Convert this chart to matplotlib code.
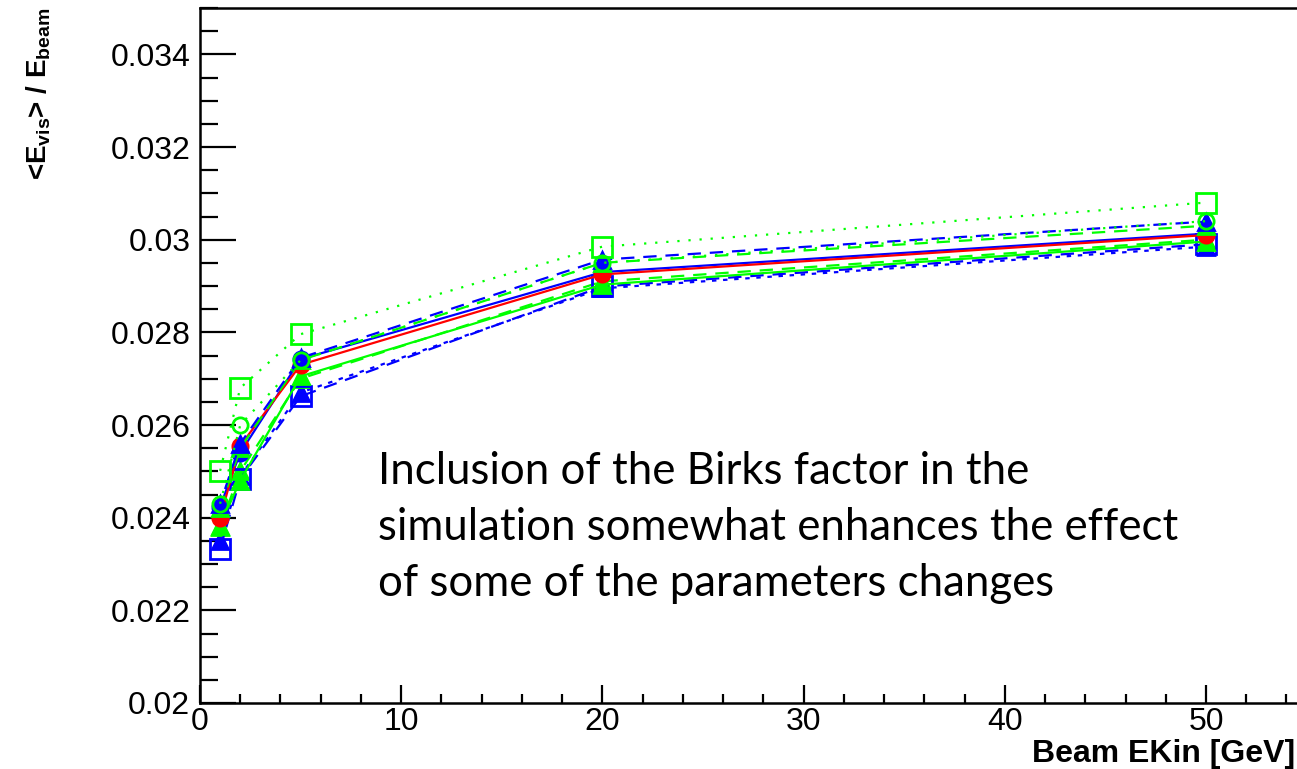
import matplotlib
matplotlib.use("Agg")
import matplotlib.pyplot as plt
from matplotlib.ticker import MultipleLocator

plt.rcParams['font.family'] = ['Liberation Sans', 'DejaVu Sans']
plt.rcParams['mathtext.fontset'] = 'custom'
plt.rcParams['mathtext.rm'] = 'Liberation Sans:bold'
plt.rcParams['mathtext.it'] = 'Liberation Sans:bold'
plt.rcParams['mathtext.bf'] = 'Liberation Sans:bold'
plt.rcParams['mathtext.default'] = 'rm'

# ---- data ----
energies = [1, 2, 5, 20, 50]

green_dot_sq   = [0.02501, 0.02680, 0.02796, 0.02985, 0.03080]
green_dot_circ = [0.02430, 0.02600, 0.02740, 0.02950, 0.03040]
blue_dash_tri  = [0.02430, 0.02560, 0.02745, 0.02957, 0.03039]
green_dash_up  = [0.02420, 0.02550, 0.02740, 0.02950, 0.03030]
red_solid_circ = [0.02400, 0.02555, 0.02730, 0.02925, 0.03010]
blue_solid_circ= [0.02424, 0.02540, 0.02742, 0.02930, 0.03013]
green_solid_tri= [0.02383, 0.02480, 0.02705, 0.02903, 0.02996]
blue_dash_sq   = [0.02333, 0.02484, 0.02662, 0.02899, 0.02990]
blue_dot_low   = [0.02350, 0.02490, 0.02670, 0.02895, 0.02985]
green_dash_low = [0.02380, 0.02500, 0.02700, 0.02910, 0.03000]

ytick_vals = [0.02, 0.022, 0.024, 0.026, 0.028, 0.03, 0.032, 0.034]
ytick_labels = ['0.02', '0.022', '0.024', '0.026', '0.028', '0.03', '0.032', '0.034']

xlabel = 'Beam EKin [GeV]'
ylabel = r'<E$_{\rm vis}$> / E$_{\rm beam}$'
note = ("Inclusion of the Birks factor in the\n"
        "simulation somewhat enhances the effect\n"
        "of some of the parameters changes")

GREEN = '#00ff00'
BLUE = '#0000ff'
RED = '#ff0000'

series = [
    (blue_dot_low,    BLUE,  (0, (2, 3)),  '^', True),
    (green_dash_low,  GREEN, (0, (6, 4)),  '^', True),
    (blue_dash_sq,    BLUE,  (0, (6, 4)),  's', False),
    (green_solid_tri, GREEN, '-',          '^', True),
    (blue_solid_circ, BLUE,  '-',          'o', True),
    (red_solid_circ,  RED,   '-',          'o', True),
    (green_dash_up,   GREEN, (0, (6, 4)),  '^', True),
    (blue_dash_tri,   BLUE,  (3, (6, 4)),  '^', True),
    (green_dot_circ,  GREEN, (0, (1, 4)),  'o', False),
    (green_dot_sq,    GREEN, (0, (1, 4)),  's', False),
]

fig = plt.figure(figsize=(12.97, 7.69), dpi=100)
ax = fig.add_axes([200/1297, 66/769, 1106.6/1297, 695/769])

for vals, col, ls, mk, filled in series:
    ms = 15 if mk == 's' else 11
    ax.plot(energies, vals, color=col, linestyle=ls, linewidth=1.6,
            marker=mk, markersize=ms,
            markerfacecolor=col if filled else 'none',
            markeredgecolor=col, markeredgewidth=2)

ax.set_xlim(0, 55)
ax.set_ylim(0.02, 0.035)
ax.xaxis.set_major_locator(MultipleLocator(10))
ax.xaxis.set_minor_locator(MultipleLocator(2))
ax.yaxis.set_minor_locator(MultipleLocator(0.0005))
ax.set_yticks(ytick_vals)
ax.set_yticklabels(ytick_labels)

ax.tick_params(axis='both', which='both', direction='in', top=False, right=False,
               labelsize=23, width=1.6, color='black')
ax.tick_params(axis='y', which='major', length=26, pad=7)
ax.tick_params(axis='y', which='minor', length=13)
ax.tick_params(axis='x', which='major', length=13, pad=3)
ax.tick_params(axis='x', which='minor', length=6.5)
for sp in ax.spines.values():
    sp.set_linewidth(1.8)

ax.set_xlabel(xlabel, fontsize=23, fontweight='bold')
ax.xaxis.set_label_coords(1095/1106.6, -51/695)
ax.xaxis.label.set_horizontalalignment('right')
ax.xaxis.label.set_verticalalignment('center')
ax.set_ylabel(ylabel, fontsize=20, fontweight='bold')
ax.yaxis.set_label_coords(-147/1106.6, 1.0)
ax.yaxis.label.set_horizontalalignment('right')

fig.text(378/1297, 1 - 451/769, note, family='Lato', fontsize=31.5,
         ha='left', va='top', linespacing=1.45, color='black')

fig.savefig('out.png', dpi=100)
